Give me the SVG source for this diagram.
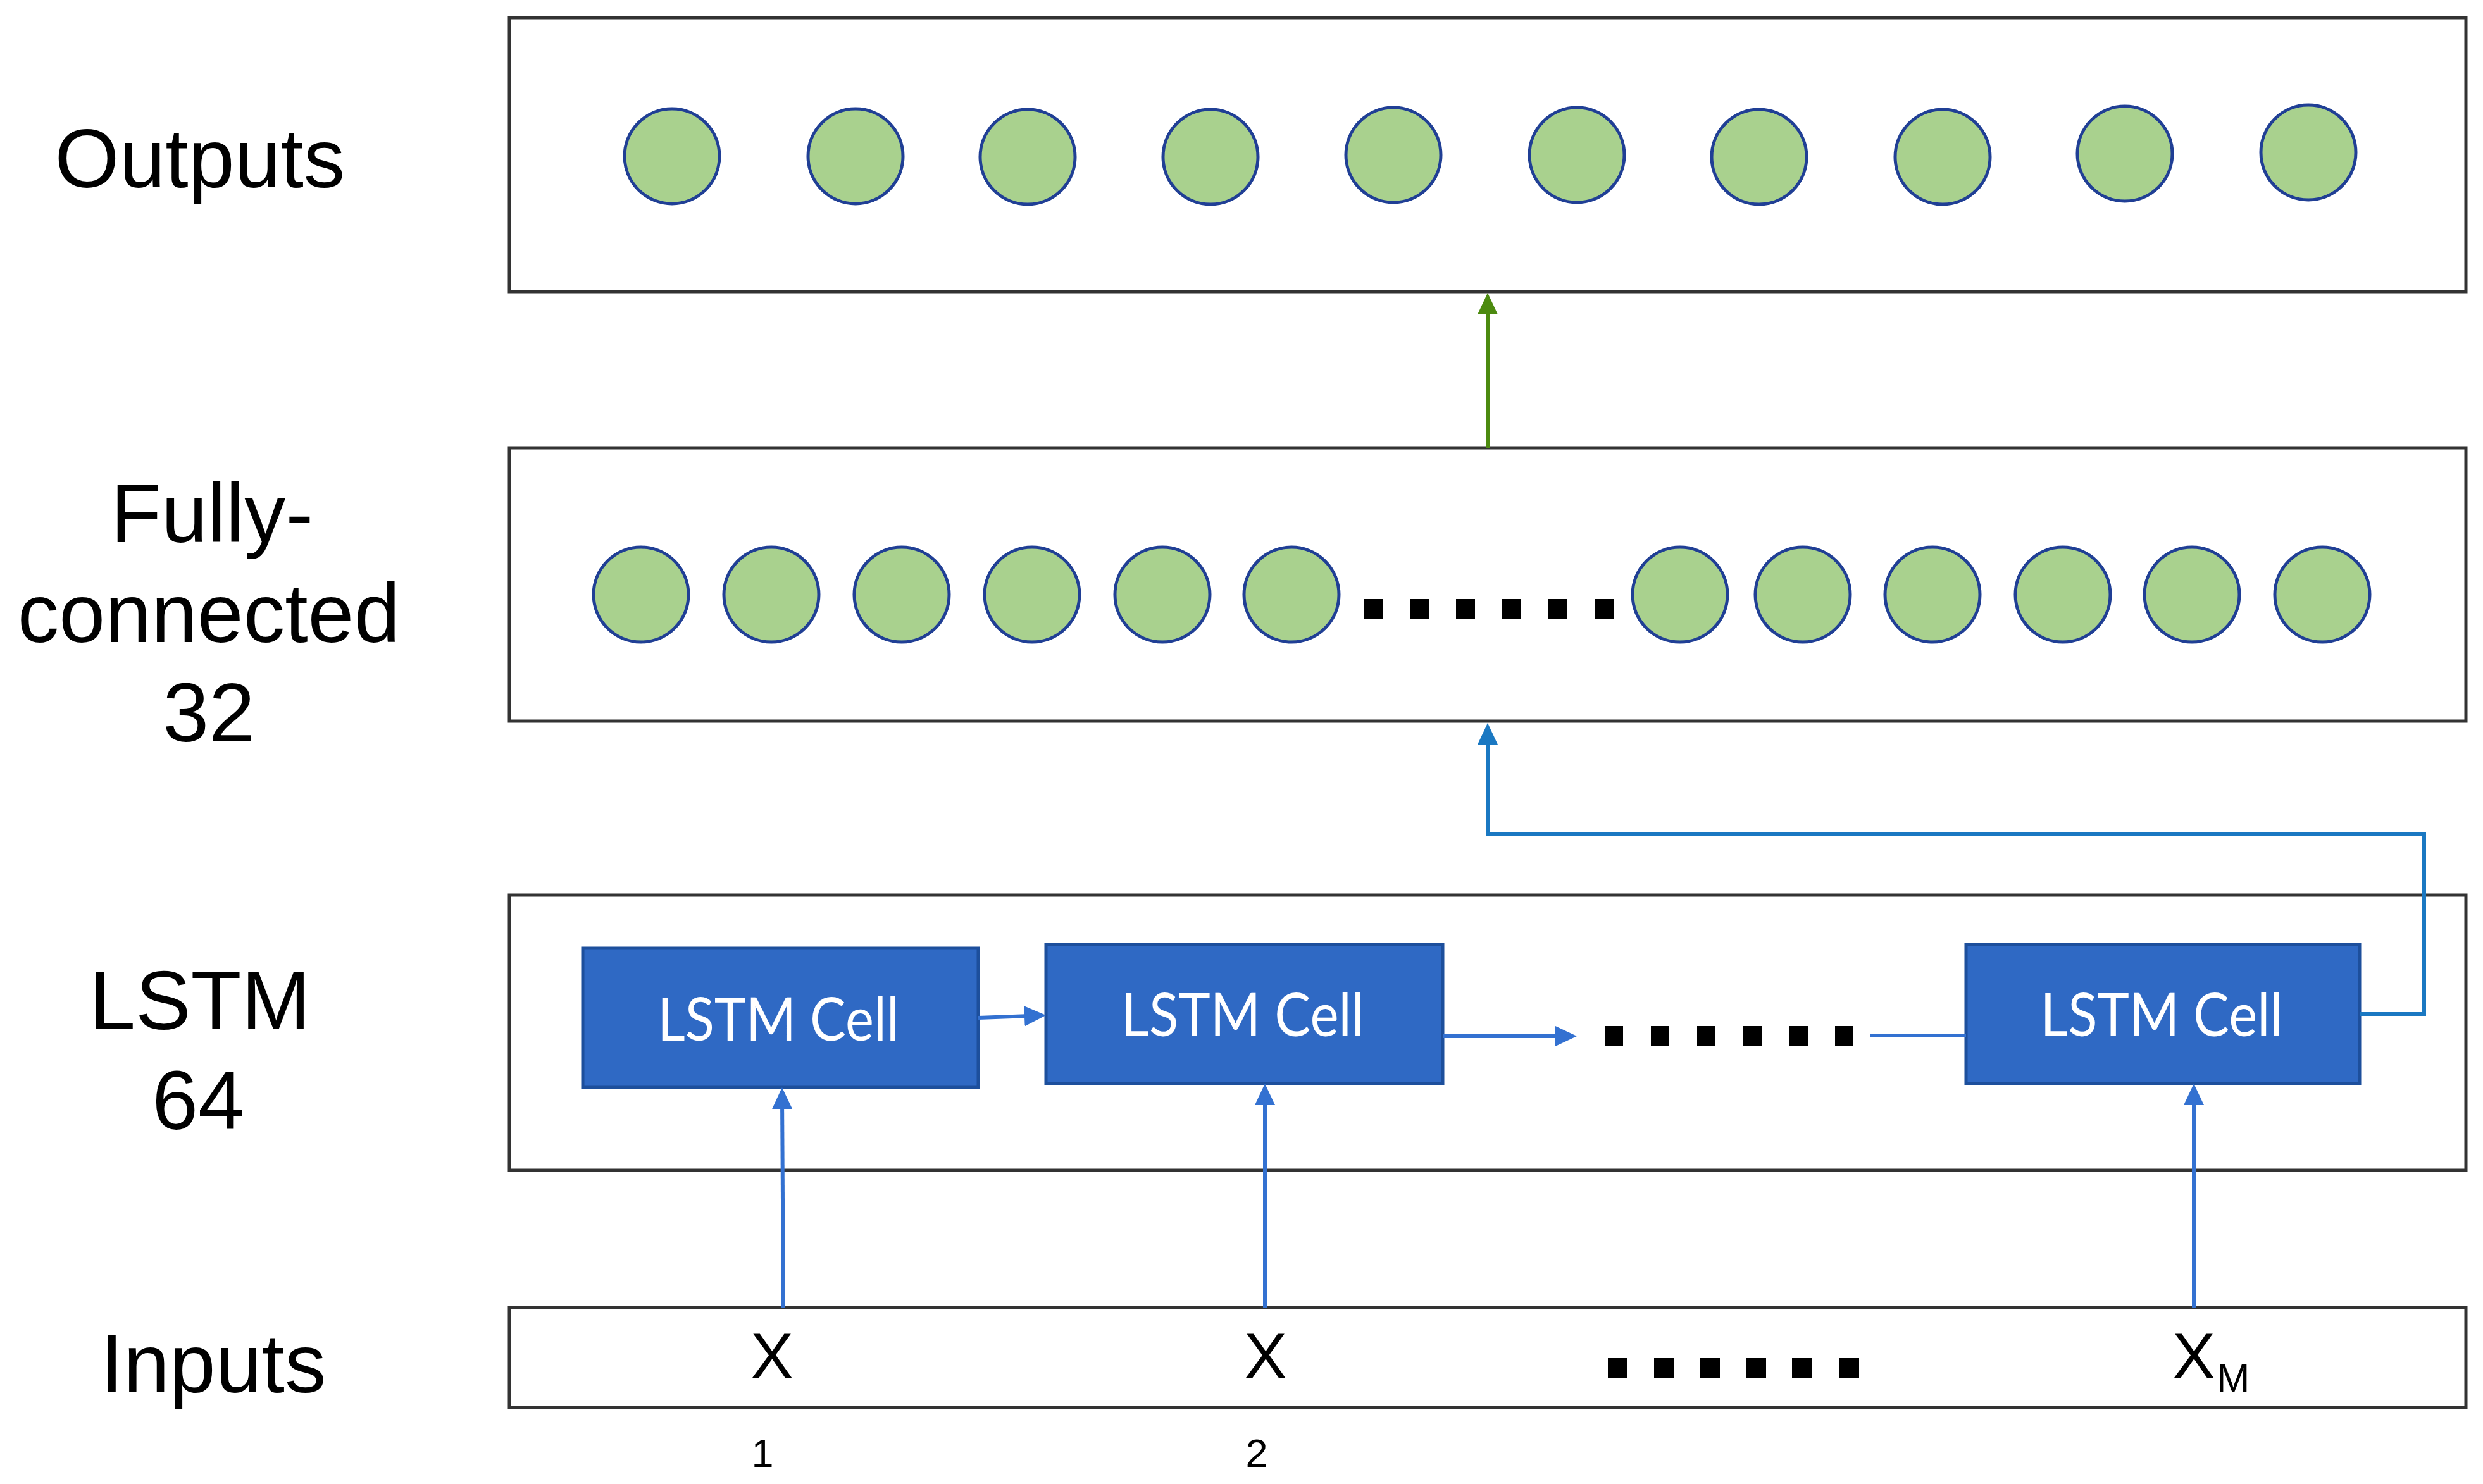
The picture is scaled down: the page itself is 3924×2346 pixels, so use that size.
<svg xmlns="http://www.w3.org/2000/svg" width="3924" height="2346" viewBox="0 0 3924 2346">
<style>
.layer{fill:#ffffff;stroke:#333333;stroke-width:5}
.lbl{font-family:"Liberation Sans",Arial,sans-serif;font-size:131px;fill:#000000;text-anchor:middle}
.xin{font-family:"Liberation Sans",Arial,sans-serif;font-size:102px;fill:#000000;text-anchor:middle}
.sub{font-family:"Liberation Sans",Arial,sans-serif;font-size:63px;fill:#000000}
.neuron{fill:#a9d18e;stroke:#203f95;stroke-width:5}
.cell{fill:#2f69c4;stroke:#1d4f9c;stroke-width:5}
.celltxt{font-family:Lato,"Open Sans",sans-serif;font-size:95px;fill:#ffffff;text-anchor:middle}
.dot{fill:#000000}
.c-blue{fill:none;stroke:#3371d1;stroke-width:6}
.c-route{fill:none;stroke:#1a78c2;stroke-width:6}
.c-green{fill:none;stroke:#4c8a0f;stroke-width:6}
</style>
<defs>
<marker id="ah-blue" markerUnits="userSpaceOnUse" markerWidth="34" markerHeight="32" refX="22" refY="16" orient="auto"><path d="M0,0 L34,16 L0,32 z" fill="#3371d1"/></marker>
<marker id="ah-route" markerUnits="userSpaceOnUse" markerWidth="34" markerHeight="32" refX="22" refY="16" orient="auto"><path d="M0,0 L34,16 L0,32 z" fill="#1a78c2"/></marker>
<marker id="ah-green" markerUnits="userSpaceOnUse" markerWidth="34" markerHeight="32" refX="22" refY="16" orient="auto"><path d="M0,0 L34,16 L0,32 z" fill="#4c8a0f"/></marker>
</defs>
<rect x="0" y="0" width="3924" height="2346" fill="#ffffff"/>

<g id="label-outputs"><text class="lbl" x="316" y="296">Outputs</text></g>
<g id="label-fc">
<text class="lbl" x="335" y="857">Fully-</text>
<text class="lbl" x="330" y="1015">connected</text>
<text class="lbl" x="330" y="1172">32</text>
</g>
<g id="label-lstm">
<text class="lbl" x="316" y="1627">LSTM</text>
<text class="lbl" x="313" y="1785">64</text>
</g>
<g id="label-inputs"><text class="lbl" x="337" y="2201">Inputs</text></g>

<g id="outputs-layer">
<rect class="layer" x="805" y="28" width="3092" height="433"/>
<circle class="neuron" cx="1062" cy="247" r="75"/>
<circle class="neuron" cx="1352" cy="247" r="75"/>
<circle class="neuron" cx="1624" cy="248" r="75"/>
<circle class="neuron" cx="1913" cy="248" r="75"/>
<circle class="neuron" cx="2202" cy="245" r="75"/>
<circle class="neuron" cx="2492" cy="245" r="75"/>
<circle class="neuron" cx="2780" cy="248" r="75"/>
<circle class="neuron" cx="3070" cy="248" r="75"/>
<circle class="neuron" cx="3358" cy="243" r="75"/>
<circle class="neuron" cx="3648" cy="241" r="75"/>
</g>

<g id="fc-layer">
<rect class="layer" x="805" y="708" width="3092" height="432"/>
<circle class="neuron" cx="1013" cy="940" r="75"/>
<circle class="neuron" cx="1219" cy="940" r="75"/>
<circle class="neuron" cx="1425" cy="940" r="75"/>
<circle class="neuron" cx="1631" cy="940" r="75"/>
<circle class="neuron" cx="1837" cy="940" r="75"/>
<circle class="neuron" cx="2041" cy="940" r="75"/>
<rect class="dot" x="2155" y="947" width="30" height="31"/>
<rect class="dot" x="2228" y="947" width="30" height="31"/>
<rect class="dot" x="2301" y="947" width="30" height="31"/>
<rect class="dot" x="2374" y="947" width="30" height="31"/>
<rect class="dot" x="2447" y="947" width="30" height="31"/>
<rect class="dot" x="2521" y="947" width="30" height="31"/>
<circle class="neuron" cx="2655" cy="940" r="75"/>
<circle class="neuron" cx="2849" cy="940" r="75"/>
<circle class="neuron" cx="3054" cy="940" r="75"/>
<circle class="neuron" cx="3260" cy="940" r="75"/>
<circle class="neuron" cx="3464" cy="940" r="75"/>
<circle class="neuron" cx="3670" cy="940" r="75"/>
</g>

<g id="lstm-layer">
<rect class="layer" x="805" y="1415" width="3092" height="435"/>
<rect class="dot" x="2536" y="1622" width="29" height="31"/>
<rect class="dot" x="2609" y="1622" width="29" height="31"/>
<rect class="dot" x="2682" y="1622" width="29" height="31"/>
<rect class="dot" x="2755" y="1622" width="29" height="31"/>
<rect class="dot" x="2828" y="1622" width="29" height="31"/>
<rect class="dot" x="2900" y="1622" width="29" height="31"/>
</g>

<g id="cell1">
<rect class="cell" x="921" y="1499" width="625" height="220"/>
<text class="celltxt" x="1230" y="1645" textLength="382" lengthAdjust="spacingAndGlyphs">LSTM Cell</text>
</g>
<g id="cell2">
<rect class="cell" x="1653" y="1493" width="627" height="220"/>
<text class="celltxt" x="1964" y="1638" textLength="384" lengthAdjust="spacingAndGlyphs">LSTM Cell</text>
</g>
<g id="cell3">
<rect class="cell" x="3107" y="1493" width="622" height="220"/>
<text class="celltxt" x="3416" y="1638" textLength="383" lengthAdjust="spacingAndGlyphs">LSTM Cell</text>
</g>

<g id="inputs-layer">
<rect class="layer" x="805" y="2067" width="3092" height="158"/>
<text class="xin" x="1220" y="2179">X</text>
<text class="xin" x="2000" y="2179">X</text>
<rect class="dot" x="2541" y="2147" width="31" height="32"/>
<rect class="dot" x="2614" y="2147" width="31" height="32"/>
<rect class="dot" x="2687" y="2147" width="31" height="32"/>
<rect class="dot" x="2760" y="2147" width="31" height="32"/>
<rect class="dot" x="2832" y="2147" width="31" height="32"/>
<rect class="dot" x="2907" y="2147" width="31" height="32"/>
<text class="xin" x="3467" y="2179">X</text>
<text class="sub" x="3503" y="2200">M</text>
</g>
<g id="index-labels">
<text class="sub" x="1205" y="2319" text-anchor="middle">1</text>
<text class="sub" x="1986" y="2319" text-anchor="middle">2</text>
</g>

<g id="connectors">
<path class="c-green" d="M2351,708 L2351,475" marker-end="url(#ah-green)"/>
<path class="c-route" d="M3729,1603 L3831,1603 L3831,1318 L2351,1318 L2351,1155" marker-end="url(#ah-route)"/>
<path class="c-blue" d="M1546,1609 L1641,1605.5" marker-end="url(#ah-blue)"/>
<path class="c-blue" d="M2280,1638 L2480,1638" marker-end="url(#ah-blue)"/>
<path class="c-blue" d="M2956,1637 L3107,1637"/>
<path class="c-blue" d="M1238,2067 L1236,1731" marker-end="url(#ah-blue)"/>
<path class="c-blue" d="M1999,2067 L1999,1725" marker-end="url(#ah-blue)"/>
<path class="c-blue" d="M3467,2067 L3467,1725" marker-end="url(#ah-blue)"/>
</g>
</svg>
